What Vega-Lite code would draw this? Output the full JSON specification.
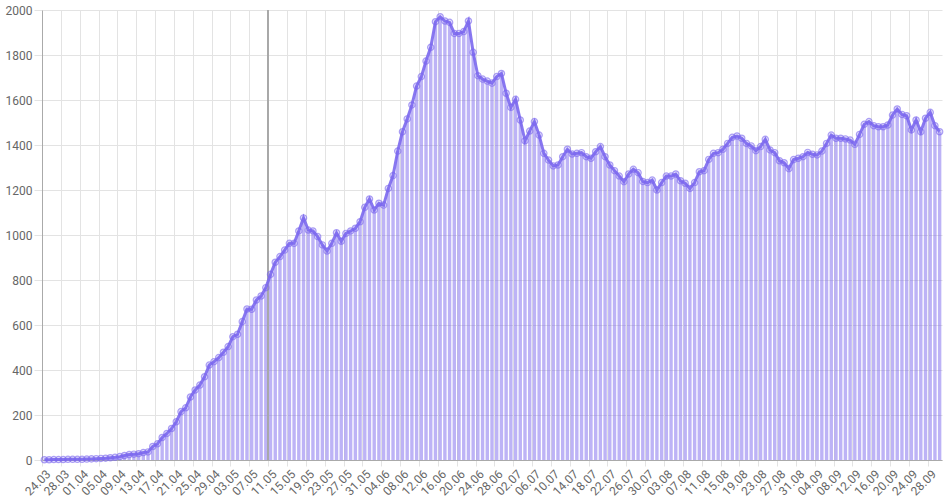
{
  "$schema": "https://vega.github.io/schema/vega-lite/v6.json",
  "autosize": {"type": "none"},
  "padding": {"left": 42, "top": 10, "right": 6, "bottom": 40},
  "width": 900,
  "height": 450,
  "config": {
    "view": {"stroke": null},
    "font": "Roboto",
    "axis": {"labelFont": "Roboto", "labelFontSize": 12, "labelColor": "#666666", "gridColor": "#e3e3e3", "gridWidth": 1, "tickColor": "#e3e3e3", "domainColor": "#aaaaaa", "title": null}
  },
  "data": {"format": {"parse": {"d": "date:'%d.%m'"}}, "values": [
    {"d":"24.03","v":1},{"d":"25.03","v":1},{"d":"26.03","v":2},{"d":"27.03","v":2},{"d":"28.03","v":2},{"d":"29.03","v":3},{"d":"30.03","v":3},{"d":"31.03","v":3},
    {"d":"01.04","v":3},{"d":"02.04","v":4},{"d":"03.04","v":5},{"d":"04.04","v":6},{"d":"05.04","v":7},{"d":"06.04","v":8},{"d":"07.04","v":10},{"d":"08.04","v":12},{"d":"09.04","v":15},{"d":"10.04","v":20},{"d":"11.04","v":24},{"d":"12.04","v":26},{"d":"13.04","v":28},{"d":"14.04","v":33},{"d":"15.04","v":36},{"d":"16.04","v":60},{"d":"17.04","v":72},{"d":"18.04","v":100},{"d":"19.04","v":118},{"d":"20.04","v":140},{"d":"21.04","v":170},{"d":"22.04","v":215},{"d":"23.04","v":232},{"d":"24.04","v":280},{"d":"25.04","v":311},{"d":"26.04","v":333},{"d":"27.04","v":370},{"d":"28.04","v":422},{"d":"29.04","v":437},{"d":"30.04","v":455},
    {"d":"01.05","v":479},{"d":"02.05","v":504},{"d":"03.05","v":548},{"d":"04.05","v":559},{"d":"05.05","v":615},{"d":"06.05","v":671},{"d":"07.05","v":670},{"d":"08.05","v":711},{"d":"09.05","v":729},{"d":"10.05","v":766},{"d":"11.05","v":825},{"d":"12.05","v":879},{"d":"13.05","v":904},{"d":"14.05","v":933},{"d":"15.05","v":963},{"d":"16.05","v":963},{"d":"17.05","v":1018},{"d":"18.05","v":1076},{"d":"19.05","v":1022},{"d":"20.05","v":1018},{"d":"21.05","v":993},{"d":"22.05","v":956},{"d":"23.05","v":929},{"d":"24.05","v":963},{"d":"25.05","v":1010},{"d":"26.05","v":972},{"d":"27.05","v":1007},{"d":"28.05","v":1018},{"d":"29.05","v":1030},{"d":"30.05","v":1059},{"d":"31.05","v":1123},
    {"d":"01.06","v":1160},{"d":"02.06","v":1111},{"d":"03.06","v":1141},{"d":"04.06","v":1133},{"d":"05.06","v":1207},{"d":"06.06","v":1264},{"d":"07.06","v":1373},{"d":"08.06","v":1459},{"d":"09.06","v":1516},{"d":"10.06","v":1578},{"d":"11.06","v":1662},{"d":"12.06","v":1704},{"d":"13.06","v":1773},{"d":"14.06","v":1834},{"d":"15.06","v":1948},{"d":"16.06","v":1970},{"d":"17.06","v":1951},{"d":"18.06","v":1945},{"d":"19.06","v":1896},{"d":"20.06","v":1896},{"d":"21.06","v":1904},{"d":"22.06","v":1951},{"d":"23.06","v":1812},{"d":"24.06","v":1708},{"d":"25.06","v":1693},{"d":"26.06","v":1684},{"d":"27.06","v":1675},{"d":"28.06","v":1704},{"d":"29.06","v":1718},{"d":"30.06","v":1630},
    {"d":"01.07","v":1567},{"d":"02.07","v":1603},{"d":"03.07","v":1511},{"d":"04.07","v":1419},{"d":"05.07","v":1462},{"d":"06.07","v":1504},{"d":"07.07","v":1444},{"d":"08.07","v":1363},{"d":"09.07","v":1333},{"d":"10.07","v":1307},{"d":"11.07","v":1311},{"d":"12.07","v":1348},{"d":"13.07","v":1381},{"d":"14.07","v":1360},{"d":"15.07","v":1363},{"d":"16.07","v":1366},{"d":"17.07","v":1348},{"d":"18.07","v":1341},{"d":"19.07","v":1370},{"d":"20.07","v":1393},{"d":"21.07","v":1348},{"d":"22.07","v":1311},{"d":"23.07","v":1286},{"d":"24.07","v":1262},{"d":"25.07","v":1237},{"d":"26.07","v":1271},{"d":"27.07","v":1292},{"d":"28.07","v":1277},{"d":"29.07","v":1238},{"d":"30.07","v":1233},{"d":"31.07","v":1244},
    {"d":"01.08","v":1200},{"d":"02.08","v":1233},{"d":"03.08","v":1262},{"d":"04.08","v":1262},{"d":"05.08","v":1271},{"d":"06.08","v":1241},{"d":"07.08","v":1230},{"d":"08.08","v":1207},{"d":"09.08","v":1233},{"d":"10.08","v":1281},{"d":"11.08","v":1286},{"d":"12.08","v":1336},{"d":"13.08","v":1363},{"d":"14.08","v":1366},{"d":"15.08","v":1381},{"d":"16.08","v":1407},{"d":"17.08","v":1434},{"d":"18.08","v":1440},{"d":"19.08","v":1430},{"d":"20.08","v":1407},{"d":"21.08","v":1396},{"d":"22.08","v":1375},{"d":"23.08","v":1393},{"d":"24.08","v":1425},{"d":"25.08","v":1378},{"d":"26.08","v":1366},{"d":"27.08","v":1330},{"d":"28.08","v":1321},{"d":"29.08","v":1295},{"d":"30.08","v":1335},{"d":"31.08","v":1341},
    {"d":"01.09","v":1348},{"d":"02.09","v":1367},{"d":"03.09","v":1359},{"d":"04.09","v":1356},{"d":"05.09","v":1373},{"d":"06.09","v":1407},{"d":"07.09","v":1444},{"d":"08.09","v":1430},{"d":"09.09","v":1430},{"d":"10.09","v":1427},{"d":"11.09","v":1422},{"d":"12.09","v":1403},{"d":"13.09","v":1447},{"d":"14.09","v":1492},{"d":"15.09","v":1504},{"d":"16.09","v":1486},{"d":"17.09","v":1481},{"d":"18.09","v":1481},{"d":"19.09","v":1489},{"d":"20.09","v":1533},{"d":"21.09","v":1560},{"d":"22.09","v":1536},{"d":"23.09","v":1530},{"d":"24.09","v":1467},{"d":"25.09","v":1511},{"d":"26.09","v":1459},{"d":"27.09","v":1519},{"d":"28.09","v":1545},{"d":"29.09","v":1486},{"d":"30.09","v":1459}
  ]},
  "encoding": {
    "x": {
      "field": "d", "type": "temporal",
      "scale": {"domain": [{"year": 1900, "month": 3, "date": 23, "hours": 12}, {"year": 1900, "month": 9, "date": 30, "hours": 12}], "nice": false, "padding": 0},
      "axis": {
        "values": [
          {"year":1900,"month":3,"date":24},{"year":1900,"month":3,"date":28},{"year":1900,"month":4,"date":1},{"year":1900,"month":4,"date":5},{"year":1900,"month":4,"date":9},{"year":1900,"month":4,"date":13},{"year":1900,"month":4,"date":17},{"year":1900,"month":4,"date":21},{"year":1900,"month":4,"date":25},{"year":1900,"month":4,"date":29},
          {"year":1900,"month":5,"date":3},{"year":1900,"month":5,"date":7},{"year":1900,"month":5,"date":11},{"year":1900,"month":5,"date":15},{"year":1900,"month":5,"date":19},{"year":1900,"month":5,"date":23},{"year":1900,"month":5,"date":27},{"year":1900,"month":5,"date":31},
          {"year":1900,"month":6,"date":4},{"year":1900,"month":6,"date":8},{"year":1900,"month":6,"date":12},{"year":1900,"month":6,"date":16},{"year":1900,"month":6,"date":20},{"year":1900,"month":6,"date":24},{"year":1900,"month":6,"date":28},
          {"year":1900,"month":7,"date":2},{"year":1900,"month":7,"date":6},{"year":1900,"month":7,"date":10},{"year":1900,"month":7,"date":14},{"year":1900,"month":7,"date":18},{"year":1900,"month":7,"date":22},{"year":1900,"month":7,"date":26},{"year":1900,"month":7,"date":30},
          {"year":1900,"month":8,"date":3},{"year":1900,"month":8,"date":7},{"year":1900,"month":8,"date":11},{"year":1900,"month":8,"date":15},{"year":1900,"month":8,"date":19},{"year":1900,"month":8,"date":23},{"year":1900,"month":8,"date":27},{"year":1900,"month":8,"date":31},
          {"year":1900,"month":9,"date":4},{"year":1900,"month":9,"date":8},{"year":1900,"month":9,"date":12},{"year":1900,"month":9,"date":16},{"year":1900,"month":9,"date":20},{"year":1900,"month":9,"date":24},{"year":1900,"month":9,"date":28}
        ],
        "format": "%d.%m", "labelAngle": -45, "tickOffset": -2.35, "labelOffset": 2.35, "tickSize": 6, "labelPadding": 2, "grid": true,
        "labelOverlap": false, "labelBound": false, "labelFlush": false
      }
    },
    "y": {
      "field": "v", "type": "quantitative",
      "scale": {"domain": [0, 2000], "nice": false},
      "axis": {"values": [0,200,400,600,800,1000,1200,1400,1600,1800,2000], "format": "d", "tickSize": 8, "labelPadding": 2, "grid": true}
    }
  },
  "layer": [
    {"mark": {"type": "bar", "width": 3.4, "color": "#7b68ee", "opacity": 0.5}},
    {"mark": {"type": "rule", "color": "#a8a8a8", "strokeWidth": 1, "opacity": 0.6}, "encoding": {"x": {"datum": {"year": 1900, "month": 5, "date": 10, "hours": 12}, "type": "temporal"}, "y": null}},
    {"mark": {"type": "line", "color": "#7b68ee", "strokeWidth": 3, "opacity": 0.9}},
    {"mark": {"type": "point", "shape": "circle", "size": 40, "filled": true, "fill": "#7b68ee", "fillOpacity": 0.2, "stroke": "#7b68ee", "strokeOpacity": 0.6, "strokeWidth": 1.2}}
  ]
}
